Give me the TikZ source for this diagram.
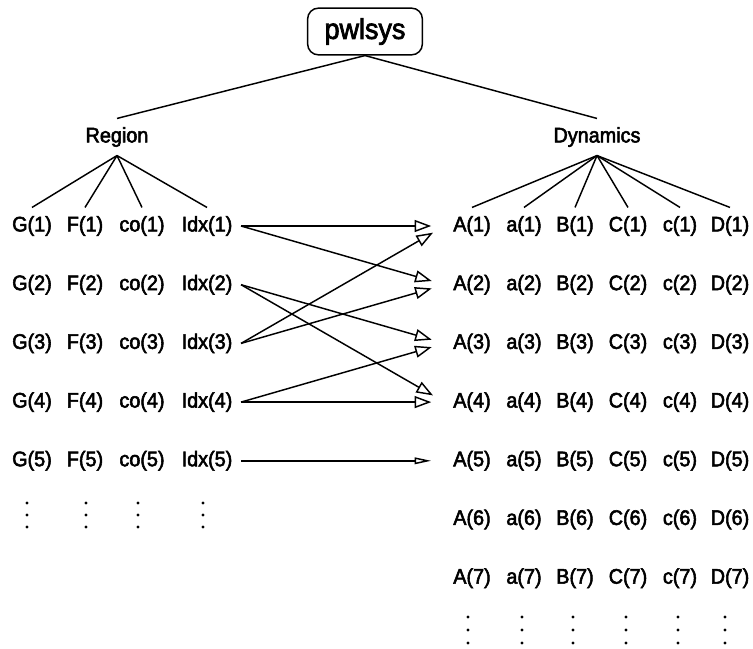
\documentclass[tikz,border=0pt]{standalone}
\usepackage{fontspec}
\setmainfont{Liberation Sans}[FakeBold=2.6, FakeStretch=0.94]
\usetikzlibrary{arrows.meta, positioning}

\begin{document}
\begin{tikzpicture}[x=0.75pt, y=-0.75pt, line width=1.1pt,
		lbl/.style={inner sep=6pt, font=\fontsize{15.8pt}{19pt}\selectfont},
		topbox/.style={draw, rounded corners=8pt, minimum width=86pt, minimum height=35pt, font=\fontsize{21.5pt}{25pt}\selectfont},
		idxarrow/.style={-{Triangle[fill=white, length=12.5pt, width=9pt]}, shorten >=10pt}]
		\useasboundingbox (0,0) rectangle (753,649);
		\draw (365,31.5) node[topbox] (pw) {pwlsys}
		(117,137) node[lbl] (reg) {Region}
		(597,137) node[lbl] (dyn) {Dynamics};
		
		% region fields, rows 1..5
		\foreach \n/\x in {G/32, F/85, co/142, Idx/207}
		\foreach \i in {1,...,5}
		\node[lbl] (\n\i) at (\x,{226+58.7*(\i-1)}) {\n(\i)};
		
		% dynamics fields, rows 1..7
		\foreach \n/\x in {A/472, a/524, B/575, C/628, c/680, D/730}
		\foreach \i in {1,...,7}
		\node[lbl] (\n\i) at (\x,{226+58.7*(\i-1)}) {\n(\i)};
		
		\draw (pw.south) -- (reg.north);
		\draw (pw.south) -- (dyn.north);
		\foreach \n in {G, F, co, Idx}
		\draw (reg.south) -- (\n1.north);
		\foreach \n in {A, a, B, C, c, D}
		\draw (dyn.south) -- (\n1.north);
		
		\draw[idxarrow] (Idx1.east) -- (A1.west);
		\draw[idxarrow] (Idx1.east) -- (A2.west);
		\draw[idxarrow] (Idx2.east) -- (A3.west);
		\draw[idxarrow] (Idx2.east) -- (A4.west);
		\draw[idxarrow] (Idx3.east) -- (A1.west);
		\draw[idxarrow] (Idx3.east) -- (A2.west);
		\draw[idxarrow] (Idx4.east) -- (A3.west);
		\draw[idxarrow] (Idx4.east) -- (A4.west);
		\draw[-{Triangle[fill=white, length=12.5pt, width=5pt]}, shorten >=10pt] (Idx5.east) -- (A5.west);
		
		% continuation dots
		\foreach \x in {27, 86, 138, 203}
		\foreach \dy in {-12, 0, 12}
		\fill (\x,{515+\dy}) circle (1.3pt);
		\foreach \x in {468, 522, 573, 626, 678, 725}
		\foreach \dy in {-13, 0, 13}
		\fill (\x,{630+\dy}) circle (1.3pt);
	\end{tikzpicture}
\end{document}
